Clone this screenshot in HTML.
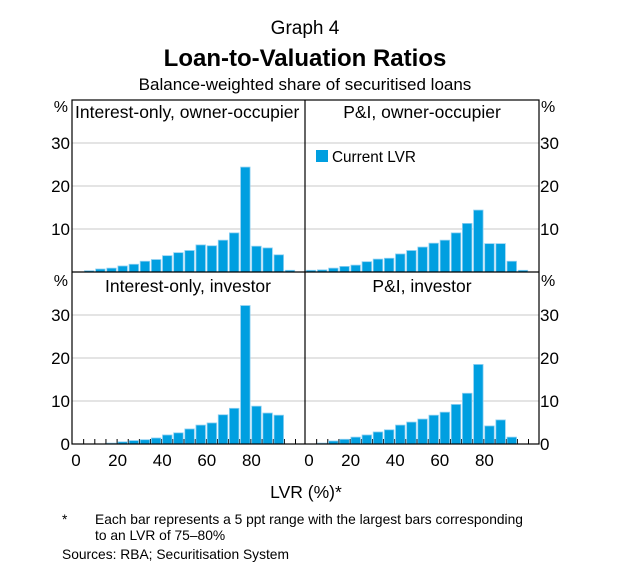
<!DOCTYPE html>
<html><head><meta charset="utf-8"><style>
html,body{margin:0;padding:0;background:#fff;}
svg text{font-family:"Liberation Sans",Arial,sans-serif;fill:#000;}
</style></head><body>
<svg id="s" width="625" height="572" xmlns="http://www.w3.org/2000/svg">
<text x="305" y="34" font-size="19" text-anchor="middle">Graph 4</text>
<text x="305" y="66" font-size="24" font-weight="bold" text-anchor="middle">Loan-to-Valuation Ratios</text>
<text x="305" y="90" font-size="17" text-anchor="middle">Balance-weighted share of securitised loans</text>
<g id="g"></g>
<text x="306" y="498" font-size="17.5" text-anchor="middle">LVR (%)*</text>
<text x="62" y="524" font-size="13.8">*</text>
<text x="95" y="524" font-size="13.8">Each bar represents a 5 ppt range with the largest bars corresponding</text>
<text x="95" y="540" font-size="13.8">to an LVR of 75–80%</text>
<text x="62" y="559" font-size="13.8">Sources:   RBA; Securitisation System</text>
</svg>
<script>
var g=document.getElementById('g'),h='';
var L=72,M=305,R=539,T=100,MID=272,B=444,U=4.3,X=2.23;
function ln(x1,y1,x2,y2,c,w){h+='<line x1="'+x1+'" y1="'+y1+'" x2="'+x2+'" y2="'+y2+'" stroke="'+c+'" stroke-width="'+(w||1)+'"/>';}
function tx(x,y,s,a,f){h+='<text x="'+x+'" y="'+y+'" font-size="'+(f||17)+'" text-anchor="'+(a||'start')+'">'+s+'</text>';}
[MID,B].forEach(function(z){for(var v=10;v<=30;v+=10){ln(L,z-v*U,R,z-v*U,'#c8c8c8',1);}});
var data=[
 [L+0.5,MID,[0,0.3,0.7,0.9,1.4,1.8,2.5,2.9,3.8,4.5,5.0,6.3,6.1,7.4,9.1,24.4,6.0,5.6,4.0,0.4],0],
 [M+0.5,MID,[0.4,0.5,0.9,1.3,1.6,2.4,3.0,3.2,4.2,5.0,5.8,6.7,7.4,9.1,11.3,14.4,6.6,6.6,2.5,0.4],0],
 [L+0.5,B,[0,0,0,0.2,0.5,0.8,1.0,1.4,2.1,2.6,3.5,4.4,4.9,6.8,8.3,32.2,8.8,7.2,6.7,0],1],
 [M+0.5,B,[0,0.2,0.7,1.1,1.6,2.1,2.8,3.3,4.4,5.1,5.8,6.7,7.4,9.2,11.8,18.5,4.2,5.6,1.6,0],1]];
data.forEach(function(d){
 var x0=d[0],z=d[1];
 if(d[3]){for(var k=1;k<=20;k++){ln(x0+k*5*X,z,x0+k*5*X,z-5,'#000',1);}}
 d[2].forEach(function(v,i){if(v<=0)return;var hh=v*U;
  h+='<rect x="'+(x0+i*5*X+0.8)+'" y="'+(z-hh)+'" width="'+(5*X-1.6)+'" height="'+hh+'" fill="#009fe0" stroke="#8fd0f2" stroke-width="0.8"/>';});
});
h+='<rect x="'+L+'" y="'+T+'" width="'+(R-L)+'" height="'+(B-T)+'" fill="none" stroke="#000" stroke-width="1.2"/>';
ln(L,MID,R,MID,'#000',1.2);ln(M,T,M,B,'#000',1.2);
tx(68,112,'%','end',16);tx(541,112,'%','start',16);tx(68,286,'%','end',16);tx(541,286,'%','start',16);
[MID,B].forEach(function(z){for(var v=10;v<=30;v+=10){tx(70,z-v*U+6,v,'end');tx(540,z-v*U+6,v,'start');}});
tx(70,B+6,'0','end');tx(540,B+6,'0','start');
[0,20,40,60,80].forEach(function(v){tx(L+1+v*X+(v==0?3:0),B+22,v,'middle');tx(M+1+v*X+(v==0?3:0),B+22,v,'middle');});
tx(L+3,118,'Interest-only, owner-occupier','start',17.5);
tx(422,118,'P&amp;I, owner-occupier','middle',17.5);
tx(188,292,'Interest-only, investor','middle',17.5);
tx(422,292,'P&amp;I, investor','middle',17.5);
h+='<rect x="316" y="150" width="12" height="12" fill="#009fe0"/>';
tx(332,162,'Current LVR','start',15.3);
g.innerHTML=h;
</script>
</body></html>
